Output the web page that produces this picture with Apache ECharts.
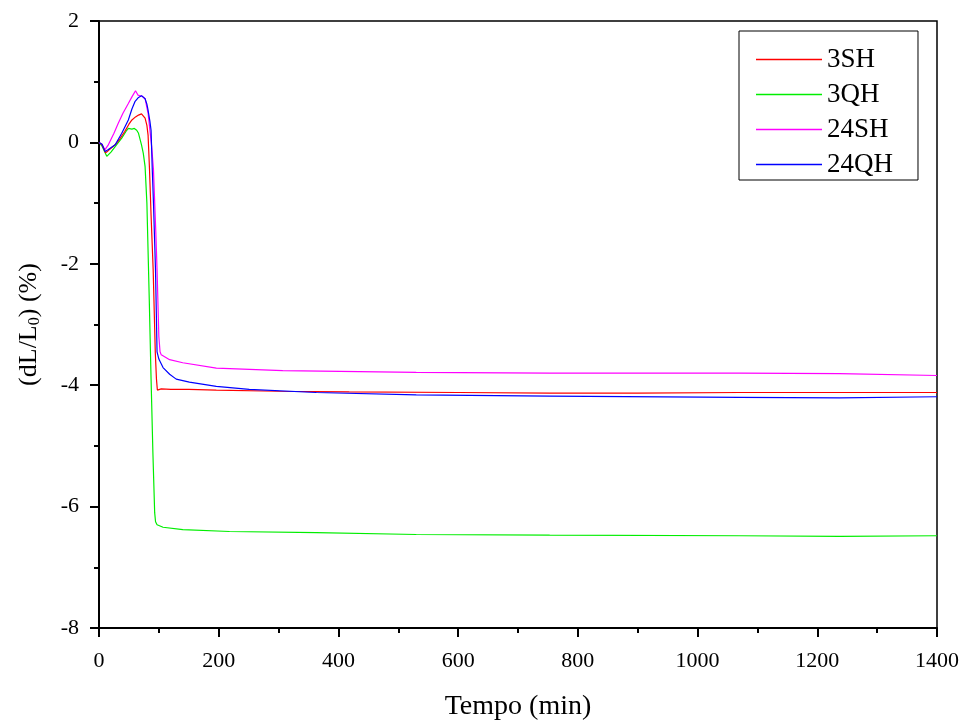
<!DOCTYPE html>
<html>
<head>
<meta charset="utf-8">
<script src="https://cdn.jsdelivr.net/npm/echarts@6/dist/echarts.min.js"></script>
<style>html,body{margin:0;padding:0;background:#fff;}#c{width:968px;height:722px;}</style>
</head>
<body>
<div id="c"></div>
<script>
var seriesNames = ['3SH', '3QH', '24SH', '24QH'];
var seriesColors = ['#ff0000', '#00ee00', '#ff00ff', '#0000ff'];

var t3SH = [0, 5, 11, 15, 27, 35, 43, 50, 55, 61, 66, 71, 74, 77, 80, 82, 84.4, 87, 90.5, 94, 96, 97.5, 100, 104, 120, 150, 196, 300, 418, 600, 753, 900, 1070, 1250, 1400];
var v3SH = [0, -0.04, -0.17, -0.14, -0.04, 0.06, 0.18, 0.30, 0.37, 0.42, 0.45, 0.47, 0.46, 0.40, 0.28, 0.12, -0.45, -1.2, -2.1, -3.45, -3.9, -4.08, -4.07, -4.06, -4.07, -4.07, -4.08, -4.10, -4.11, -4.12, -4.13, -4.13, -4.12, -4.12, -4.12];

var t3QH = [0, 5, 13, 20, 27, 38, 45, 49, 55, 59, 63, 66, 71, 74, 77, 80, 84, 87, 90, 93, 94.5, 97, 100, 107, 140, 218, 363, 366, 530, 753, 1070, 1237, 1400];
var v3QH = [0, -0.06, -0.23, -0.16, -0.07, 0.07, 0.18, 0.23, 0.22, 0.23, 0.20, 0.15, -0.04, -0.18, -0.40, -1.0, -2.6, -3.9, -5.1, -6.1, -6.25, -6.30, -6.32, -6.34, -6.38, -6.41, -6.43, -6.44, -6.46, -6.47, -6.48, -6.49, -6.48];

var t24SH = [0, 5, 10, 15, 25, 32, 40, 49, 55, 61, 63, 65, 68, 72, 77, 82, 88, 91, 95, 97, 100, 102, 104, 118, 140, 196, 307, 530, 753, 1070, 1237, 1400];
var v24SH = [0, -0.03, -0.12, -0.05, 0.15, 0.31, 0.48, 0.64, 0.75, 0.85, 0.84, 0.78, 0.77, 0.76, 0.72, 0.48, -0.07, -0.45, -1.5, -2.1, -3.2, -3.45, -3.50, -3.58, -3.63, -3.72, -3.76, -3.79, -3.80, -3.80, -3.81, -3.84];

var t24QH = [0, 5, 10, 15, 27, 38, 49, 55, 60, 66, 71, 74, 77, 80, 82, 85, 87, 89, 91, 94.4, 97, 100, 107, 118, 129, 151, 196, 251, 363, 530, 753, 1070, 1237, 1400];
var v24QH = [0, -0.03, -0.15, -0.12, -0.04, 0.15, 0.37, 0.55, 0.67, 0.74, 0.77, 0.77, 0.72, 0.63, 0.53, 0.35, 0.20, -0.45, -1.0, -2.1, -3.45, -3.57, -3.71, -3.82, -3.90, -3.95, -4.02, -4.07, -4.12, -4.16, -4.18, -4.20, -4.21, -4.19];

var xTicks = [0, 200, 400, 600, 800, 1000, 1200, 1400];
var yTicks = [-8, -6, -4, -2, 0, 2];

function zip(t, v) { return t.map(function (x, i) { return [x, v[i]]; }); }
var allT = [t3SH, t3QH, t24SH, t24QH];
var allV = [v3SH, v3QH, v24SH, v24QH];

var font = '"Liberation Serif", "Times New Roman", serif';
var chart = echarts.init(document.getElementById('c'), null, {renderer: 'canvas'});
chart.setOption({
  animation: false,
  backgroundColor: '#fff',
  grid: {left: 99, right: 31, top: 21, bottom: 94, outerBoundsMode: 'none', containLabel: false,
    show: true, borderColor: '#000', borderWidth: 1.5, backgroundColor: 'transparent'},
  legend: {
    orient: 'vertical', left: 739, top: 31,
    data: seriesNames.map(function (n) { return {name: n, icon: 'rect'}; }),
    itemWidth: 66, itemHeight: 1.5, itemGap: 8,
    padding: [15, 25, 2, 17],
    borderColor: '#000', borderWidth: 1,
    textStyle: {fontFamily: font, fontSize: 27, color: '#000'}
  },
  xAxis: {
    type: 'value', min: xTicks[0], max: xTicks[xTicks.length - 1], interval: 200,
    name: 'Tempo (min)', nameLocation: 'middle', nameGap: 65,
    nameTextStyle: {fontFamily: font, fontSize: 28, color: '#000'},
    axisLine: {show: true, onZero: false, lineStyle: {color: '#000', width: 2}},
    axisTick: {show: true, inside: false, length: 9, lineStyle: {color: '#000', width: 2}},
    minorTick: {show: true, splitNumber: 2, length: 5, lineStyle: {color: '#000', width: 2}},
    axisLabel: {fontFamily: font, fontSize: 22, color: '#000', margin: 22, formatter: function (v) { return String(v); }},
    splitLine: {show: false}
  },
  yAxis: {
    type: 'value', min: yTicks[0], max: yTicks[yTicks.length - 1], interval: 2,
    name: '(dL/L{sub|0}) (%)', nameLocation: 'middle', nameGap: 56, nameRotate: 90,
    nameTextStyle: {fontFamily: font, fontSize: 26, color: '#000',
      rich: {sub: {fontFamily: font, fontSize: 16, color: '#000', padding: [12, 0, 0, 0]}}},
    axisLine: {show: true, onZero: false, lineStyle: {color: '#000', width: 2}},
    axisTick: {show: true, inside: false, length: 9, lineStyle: {color: '#000', width: 2}},
    minorTick: {show: true, splitNumber: 2, length: 5, lineStyle: {color: '#000', width: 2}},
    axisLabel: {fontFamily: font, fontSize: 22, color: '#000', margin: 20, formatter: function (v) { return String(v); }},
    splitLine: {show: false}
  },
  series: seriesNames.map(function (n, i) {
    return {
      name: n, type: 'line', symbol: 'none', smooth: false,
      data: zip(allT[i], allV[i]),
      lineStyle: {color: seriesColors[i], width: 1.2},
      itemStyle: {color: seriesColors[i]},
      z: 3 + (i === 0 ? 3 : i)
    };
  })
});
</script>
</body>
</html>
